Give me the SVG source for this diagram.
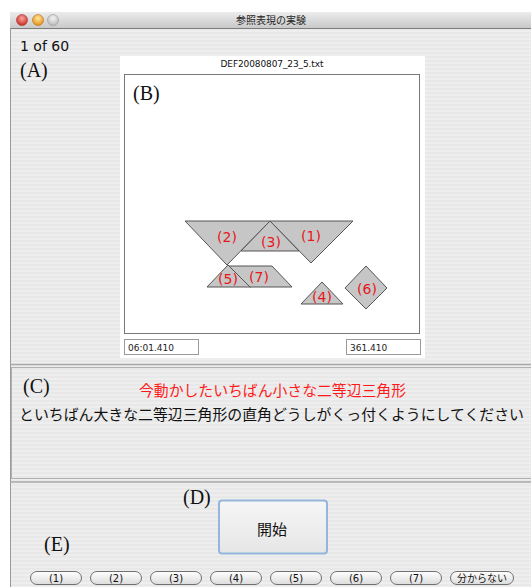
<svg xmlns="http://www.w3.org/2000/svg" width="531" height="587" viewBox="0 0 531 587">
<defs>
<pattern id="stripes" width="4" height="4" patternUnits="userSpaceOnUse">
<rect width="4" height="4" fill="#eeeeee"/>
<rect width="4" height="2" fill="#e8e8e8"/>
</pattern>
<linearGradient id="titlebar" x1="0" y1="0" x2="0" y2="1">
<stop offset="0" stop-color="#ececec"/>
<stop offset="1" stop-color="#c9c9c9"/>
</linearGradient>
<radialGradient id="red" cx="0.5" cy="0.35" r="0.6">
<stop offset="0" stop-color="#f7a5a0"/>
<stop offset="1" stop-color="#d2322b"/>
</radialGradient>
<radialGradient id="orange" cx="0.5" cy="0.35" r="0.6">
<stop offset="0" stop-color="#fde7a0"/>
<stop offset="1" stop-color="#e8961c"/>
</radialGradient>
<radialGradient id="grey" cx="0.5" cy="0.35" r="0.6">
<stop offset="0" stop-color="#f4f4f4"/>
<stop offset="1" stop-color="#bdbdbd"/>
</radialGradient>
<linearGradient id="pill" x1="0" y1="0" x2="0" y2="1">
<stop offset="0" stop-color="#ffffff"/>
<stop offset="1" stop-color="#dcdcdc"/>
</linearGradient>
<linearGradient id="startbtn" x1="0" y1="0" x2="0" y2="1">
<stop offset="0" stop-color="#f6f6f6"/>
<stop offset="1" stop-color="#e6e6e6"/>
</linearGradient>
</defs>
<style>
.sans{font-family:"DejaVu Sans","Noto Sans CJK JP",sans-serif;fill:#111}
.jp{font-family:"Noto Sans CJK JP",sans-serif}
.lbl{font-family:"Liberation Serif",serif;font-size:20px;fill:#111}
.piece{fill:#c6c6c6;stroke:#555;stroke-width:1;stroke-linejoin:miter}
.num{font-family:"DejaVu Sans",sans-serif;font-size:14px;fill:#e8161b;text-anchor:middle}
.field{fill:#fff;stroke:#9a9a9a;stroke-width:1}
.ftxt{font-family:"DejaVu Sans",sans-serif;font-size:9px;fill:#222}
.pillr{fill:url(#pill);stroke:#6f6f6f;stroke-width:1}
.ptxt{font-family:"DejaVu Sans","Noto Sans CJK JP",sans-serif;font-size:10px;fill:#111;text-anchor:middle}
.sep{stroke:#a8a8a8;stroke-width:1.5;fill:none}
</style>
<rect width="531" height="587" fill="#ffffff"/>
<g id="window">
<rect x="10" y="12" width="530" height="580" fill="url(#stripes)"/>
<path d="M10,28 V16 Q10,12 14,12 H531 V28 Z" fill="url(#titlebar)"/>
<line x1="10" y1="28.5" x2="531" y2="28.5" stroke="#7d7d7d" stroke-width="1"/>
<line x1="10.5" y1="28" x2="10.5" y2="587" stroke="#9a9a9a" stroke-width="1"/>
<circle cx="22" cy="20" r="5.5" fill="url(#red)" stroke="#a0302a" stroke-width="0.6"/>
<circle cx="38" cy="20" r="5.5" fill="url(#orange)" stroke="#b07020" stroke-width="0.6"/>
<circle cx="53" cy="20" r="5.5" fill="url(#grey)" stroke="#999" stroke-width="0.6"/>
<text x="271" y="24" class="jp" font-size="10" fill="#222" text-anchor="middle">参照表現の実験</text>
</g>
<g id="counter">
<text x="20" y="51" class="sans" font-size="14">1 of 60</text>
<text x="20" y="77" class="lbl">(A)</text>
</g>
<g id="board">
<rect x="120" y="56" width="305" height="302" fill="#ffffff"/>
<text x="272" y="67" class="sans" font-size="9" text-anchor="middle" textLength="103">DEF20080807_23_5.txt</text>
<rect x="124.5" y="74.5" width="295" height="259" fill="#ffffff" stroke="#777" stroke-width="1"/>
<text x="133" y="100" class="lbl" font-size="21">(B)</text>
<rect x="124.5" y="339.5" width="74" height="15" class="field"/>
<text x="128" y="351" class="ftxt">06:01.410</text>
<rect x="346.5" y="339.5" width="74" height="15" class="field"/>
<text x="350" y="351" class="ftxt">361.410</text>
</g>
<g id="piece2">
<polygon class="piece" points="185,221 270,221 227,265"/>
<text x="227" y="242" class="num">(2)</text>
</g>
<g id="piece1">
<polygon class="piece" points="270,221 353,221 311,263"/>
<text x="311" y="241" class="num">(1)</text>
</g>
<g id="piece3">
<polygon class="piece" points="270,221 299,251 241,251"/>
<text x="271" y="247" class="num">(3)</text>
</g>
<g id="piece5">
<polygon class="piece" points="228,265 251,287 207,287"/>
<text x="228" y="284" class="num">(5)</text>
</g>
<g id="piece7">
<polygon class="piece" points="229,266 272,266 292,287 250,287"/>
<text x="259" y="282" class="num">(7)</text>
</g>
<g id="piece4">
<polygon class="piece" points="322,282 343,304 301,304"/>
<text x="322" y="302" class="num">(4)</text>
</g>
<g id="piece6">
<polygon class="piece" points="366,266 387,288 366,309 345,288"/>
<text x="367" y="294" class="num">(6)</text>
</g>
<g id="instruction">
<line x1="10" y1="364.5" x2="531" y2="364.5" class="sep"/>
<rect x="11.5" y="367.5" width="525" height="111" fill="none" stroke="#b0b0b0" stroke-width="1"/>
<text x="23" y="393" class="lbl">(C)</text>
<text x="139" y="396" class="jp" font-size="15" fill="#ff1a1a" textLength="267" lengthAdjust="spacingAndGlyphs">今動かしたいちばん小さな二等辺三角形</text>
<text x="19" y="420" class="jp" font-size="15" fill="#111" textLength="505" lengthAdjust="spacingAndGlyphs">といちばん大きな二等辺三角形の直角どうしがくっ付くようにしてください</text>
</g>
<g id="controls">
<line x1="10" y1="482" x2="531" y2="482" class="sep"/>
<text x="183" y="504" class="lbl">(D)</text>
<text x="44" y="551" class="lbl">(E)</text>
</g>
<g id="start-button">
<rect x="219" y="500.5" width="108" height="53" rx="3" fill="url(#startbtn)" stroke="#95b5dc" stroke-width="2"/>
<text x="272" y="535" class="jp" font-size="15" fill="#111" text-anchor="middle">開始</text>
</g>
<g id="btn1"><rect x="30.5" y="571.5" width="51" height="13" rx="6.5" class="pillr"/><text x="56" y="582" class="ptxt">(1)</text></g>
<g id="btn2"><rect x="90.5" y="571.5" width="51" height="13" rx="6.5" class="pillr"/><text x="116" y="582" class="ptxt">(2)</text></g>
<g id="btn3"><rect x="150.5" y="571.5" width="51" height="13" rx="6.5" class="pillr"/><text x="176" y="582" class="ptxt">(3)</text></g>
<g id="btn4"><rect x="210.5" y="571.5" width="51" height="13" rx="6.5" class="pillr"/><text x="236" y="582" class="ptxt">(4)</text></g>
<g id="btn5"><rect x="270.5" y="571.5" width="51" height="13" rx="6.5" class="pillr"/><text x="296" y="582" class="ptxt">(5)</text></g>
<g id="btn6"><rect x="330.5" y="571.5" width="51" height="13" rx="6.5" class="pillr"/><text x="356" y="582" class="ptxt">(6)</text></g>
<g id="btn7"><rect x="390.5" y="571.5" width="51" height="13" rx="6.5" class="pillr"/><text x="416" y="582" class="ptxt">(7)</text></g>
<g id="btn-unknown"><rect x="450.5" y="571.5" width="63" height="13" rx="6.5" class="pillr"/><text x="482" y="582" class="ptxt">分からない</text></g>
<g id="connectors"/>
</svg>
